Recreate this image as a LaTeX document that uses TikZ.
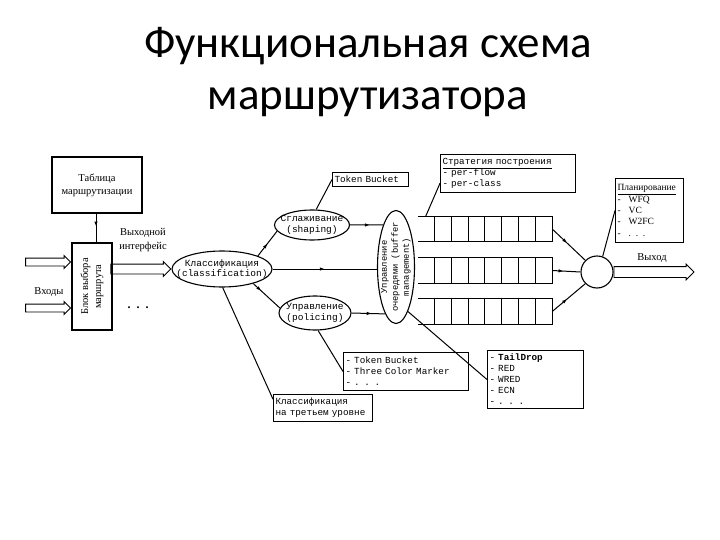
\documentclass[tikz,border=0pt]{standalone}
\usepackage{fontspec}
\setmainfont{Liberation Serif}
\newfontfamily\titlefont{Carlito}
\newfontfamily\tyfont{Liberation Mono}
\usetikzlibrary{shapes.geometric,shapes.arrows,decorations.markings,arrows.meta,calc}
\tikzset{
  conn/.style={line width=1pt},
  midarr/.style={postaction={decorate},decoration={markings,mark=at position #1 with {\arrow{Latex[length=5pt,width=3.5pt]}}}},
  ell/.style={draw,ellipse,line width=1.1pt,inner sep=0pt},
  ellabel/.style={font=\tyfont\fontsize{9.5}{10.5}\selectfont,align=center,inner sep=0pt},
  listbox/.style={draw,line width=1pt,anchor=north west,align=left,inner sep=2pt,font=\tyfont\fontsize{9.3}{11}\selectfont},
  hollow/.style={single arrow,draw,line width=0.9pt,inner sep=3.5pt,single arrow head extend=2.5pt},
  serif/.style={font=\fontsize{10.5}{14}\selectfont,inner sep=0pt},
  queue/.style={minimum width=134pt,minimum height=25.5pt,inner sep=0pt}
}
\begin{document}
\begin{tikzpicture}[x=1pt,y=-1pt]
\useasboundingbox (0,0) rectangle (720,540);
% title
\node[font=\titlefont\fontsize{45}{50}\selectfont,anchor=base] (t1) at (368,58) {Функциональная схема};
\node[font=\titlefont\fontsize{45}{50}\selectfont,anchor=base] (t2) at (368,110) {маршрутизатора};

% left part
\node[draw,line width=1.6pt,minimum width=90pt,minimum height=56pt,align=center,font=\fontsize{10.5}{13}\selectfont] (table) at (97,185) {Таблица\\маршрутизации};
\node[draw,line width=1.6pt,minimum width=40pt,minimum height=87pt,
      label={[rotate=90,align=center,font=\fontsize{10.5}{13}\selectfont]center:Блок выбора\\маршрута}] (route) at (92,286.5) {};
\draw[conn,midarr=0.45] (table.south -| 96,0) -- (route.north -| 96,0);
\node[hollow,minimum height=45pt,anchor=tip] (in1) at (route.west |- 0,262) {};
\node[hollow,minimum height=45pt,anchor=tip] (in2) at (route.west |- 0,308) {};
\node[serif] (inlbl) at (49,292) {Входы};
\node[serif,align=center] (outiflbl) at (143,240) {Выходной\\интерфейс};
\node[font=\bfseries\fontsize{12}{12}\selectfont] (dots) at (138,308) {.\hspace{6pt}.\hspace{6pt}.};

% ellipses
\node[ell,minimum width=100pt,minimum height=36pt,label={[ellabel]center:Классификация\\(classification)}] (cls) at (222,269) {};
\node[hollow,inner sep=4.5pt,minimum height=60pt,anchor=tip] (ifarr) at (cls.west) {};
\node[ell,minimum width=75pt,minimum height=30pt,label={[ellabel]center:Сглаживание\\(shaping)}] (shp) at (312,225) {};
\node[ell,minimum width=72pt,minimum height=34pt,label={[ellabel]center:Управление\\(policing)}] (pol) at (315,313) {};
\node[ell,minimum width=37pt,minimum height=113pt,label={[ellabel,rotate=90,font=\tyfont\fontsize{8.8}{11}\selectfont]center:Управление\\очередями (buffer\\management)}] (buf) at (396,267) {};

% boxes
\node[listbox,text width=72pt,minimum height=14pt] (tb) at (332,172) {Token Bucket};
\node[listbox,text width=131pt,minimum height=38pt] (str) at (440,154) {\underline{Стратегия построения}\\- per-flow\\- per-class};
\node[listbox,text width=64pt,minimum height=64pt,font=\fontsize{9.5}{11.3}\selectfont] (sch) at (615,178) {\underline{Планирование}\\-\hspace{8pt}WFQ\\-\hspace{8pt}VC\\-\hspace{8pt}W2FC\\-\hspace{8pt}. . .};
\node[listbox,text width=121pt,minimum height=38pt] (tcm) at (343,352) {- Token Bucket\\- Three Color Marker\\- . . .};
\node[listbox,text width=92pt,minimum height=58pt] (td) at (487,350) {- \textbf{TailDrop}\\- RED\\- WRED\\- ECN\\- . . .};
\node[listbox,text width=95pt,minimum height=27pt] (third) at (273,394) {Классификация\\на третьем уровне};

% queues
\foreach \q/\yy in {q1/229,q2/270.5,q3/311.5}{
  \node[queue] (\q) at (485,\yy) {};
  \draw[conn] (\q.north west) -- (\q.north east) -- (\q.south east) -- (\q.south west);
  \foreach \k in {1,...,7}
    \draw[conn] ($(\q.north west)+(16.75*\k,0)$) -- ($(\q.south west)+(16.75*\k,0)$);
}
\node[draw,circle,line width=1.1pt,minimum size=32pt,inner sep=0pt] (circ) at (597,272) {};
\node[hollow,inner sep=5pt,minimum height=80pt,anchor=tail] (outarr) at (circ.east) {};
\node[serif] (outlbl) at (652,258) {Выход};

% connectors
\draw[conn,midarr=0.5] (cls.20) -- (shp.190);
\draw[conn,midarr=0.5] (cls.east) -- (buf.west |- cls.east);
\draw[conn,midarr=0.3] (cls.-25) -- (pol.172);
\draw[conn,midarr=0.6] (shp.east) -- (buf.107);
\draw[conn,midarr=0.6] (pol.east) -- (buf.257);
\draw[conn] (shp.75) -- (tb.west);
\draw[conn] (pol.-80) -- (tcm.west);
\draw[conn] (cls.-88) -- (third.170);
\draw[conn] (buf.-75) -- (td.west);
\draw[conn] ($(q1.north west)+(8,0)$) -- ($(str.south west)!0.25!(str.north west)$);
\draw[conn,midarr=0.45] (q1.east) -- (circ.135);
\draw[conn,midarr=0.4] (q2.east) -- (circ.west);
\draw[conn,midarr=0.45] (q3.east) -- (circ.225);
\draw[conn] (circ.70) -- (sch.west);
\end{tikzpicture}
\end{document}
